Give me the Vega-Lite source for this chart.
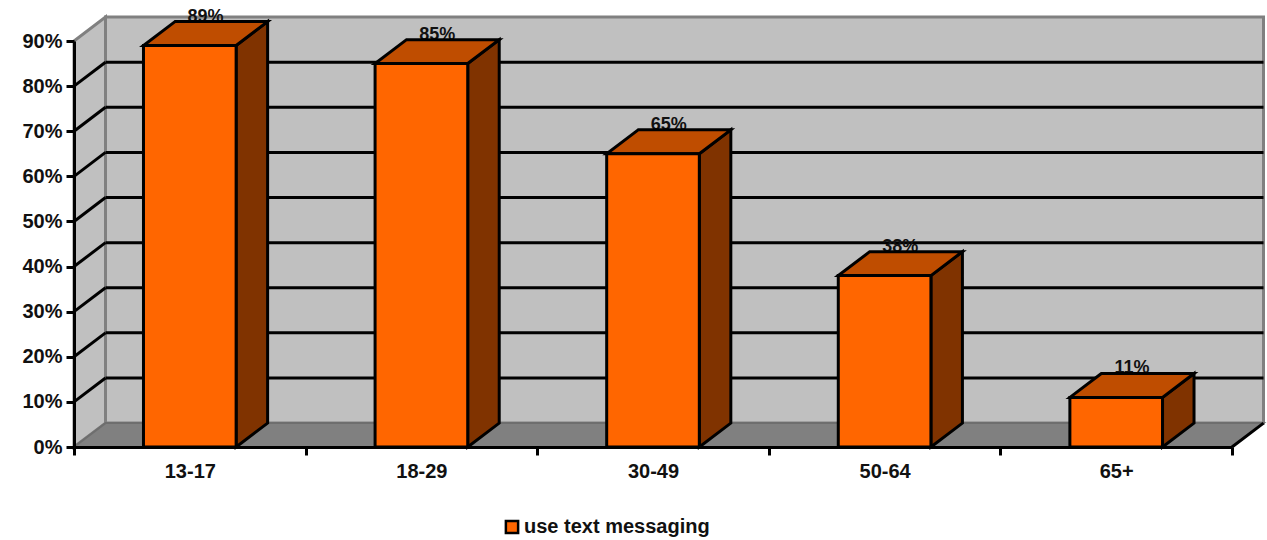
{
  "$schema": "https://vega.github.io/schema/vega-lite/v6.json",
  "width": 1158,
  "height": 406,
  "autosize": "none",
  "padding": {"left": 74, "top": 41, "right": 35, "bottom": 93},
  "background": "white",
  "params": [
    {"name": "depthX", "value": 0.136},
    {"name": "depthY", "value": 0.053}
  ],
  "datasets": {
    "groups": [
      {"age": "13-17", "slot": 0, "share": 0.89, "series": "use text messaging"},
      {"age": "18-29", "slot": 1, "share": 0.85, "series": "use text messaging"},
      {"age": "30-49", "slot": 2, "share": 0.65, "series": "use text messaging"},
      {"age": "50-64", "slot": 3, "share": 0.38, "series": "use text messaging"},
      {"age": "65+", "slot": 4, "share": 0.11, "series": "use text messaging"}
    ],
    "levels": [
      {"level": 0.1}, {"level": 0.2}, {"level": 0.3}, {"level": 0.4},
      {"level": 0.5}, {"level": 0.6}, {"level": 0.7}, {"level": 0.8}
    ],
    "edges": [{"edge": 0}, {"edge": 1}]
  },
  "layer": [
    {
      "description": "Back wall",
      "data": {"name": "edges"},
      "transform": [{"filter": "datum.edge === 0"}],
      "mark": {"type": "rect", "fill": "#c0c0c0", "stroke": "#808080", "strokeWidth": 3, "clip": false},
      "encoding": {
        "x": {"datum": {"expr": "depthX"}, "type": "quantitative", "scale": {"domain": [0, 5], "nice": false, "zero": false}, "axis": null},
        "x2": {"datum": {"expr": "5 + depthX"}},
        "y": {"datum": {"expr": "depthY"}, "type": "quantitative", "scale": {"domain": [0, 0.9], "nice": false}, "axis": null},
        "y2": {"datum": {"expr": "0.9 + depthY"}}
      }
    },
    {
      "description": "Left wall",
      "data": {"name": "edges"},
      "transform": [
        {"calculate": "datum.edge * depthX", "as": "wx"},
        {"calculate": "datum.edge * depthY", "as": "wlow"},
        {"calculate": "0.9 + datum.edge * depthY", "as": "whigh"}
      ],
      "mark": {"type": "area", "fill": "#c0c0c0", "stroke": "#808080", "strokeWidth": 3, "opacity": 1, "clip": false},
      "encoding": {
        "x": {"field": "wx", "type": "quantitative", "scale": {"domain": [0, 5], "nice": false, "zero": false}, "axis": null},
        "y": {"field": "wlow", "type": "quantitative", "scale": {"domain": [0, 0.9], "nice": false}, "axis": null},
        "y2": {"field": "whigh"}
      }
    },
    {
      "description": "Floor",
      "data": {"name": "edges"},
      "transform": [
        {"calculate": "datum.edge * depthX", "as": "fstart"},
        {"calculate": "5 + datum.edge * depthX", "as": "fend"},
        {"calculate": "datum.edge * depthY", "as": "fy"}
      ],
      "mark": {"type": "area", "orient": "horizontal", "fill": "#808080", "stroke": "#6e6e6e", "strokeWidth": 2, "opacity": 1, "clip": false},
      "encoding": {
        "x": {"field": "fstart", "type": "quantitative", "scale": {"domain": [0, 5], "nice": false, "zero": false}, "axis": null},
        "x2": {"field": "fend"},
        "y": {"field": "fy", "type": "quantitative", "scale": {"domain": [0, 0.9], "nice": false}, "axis": null}
      }
    },
    {
      "description": "Right edge of the floor",
      "data": {"name": "edges"},
      "transform": [
        {"filter": "datum.edge === 0"}
      ],
      "mark": {"type": "rule", "color": "black", "strokeWidth": 3, "clip": false},
      "encoding": {
        "x": {"datum": 5, "type": "quantitative", "scale": {"domain": [0, 5], "nice": false, "zero": false}, "axis": null},
        "x2": {"datum": {"expr": "5 + depthX"}},
        "y": {"datum": 0, "type": "quantitative", "scale": {"domain": [0, 0.9], "nice": false}, "axis": null},
        "y2": {"datum": {"expr": "depthY"}}
      }
    },
    {
      "description": "Gridlines along the back wall",
      "data": {"name": "levels"},
      "transform": [
        {"calculate": "datum.level + depthY", "as": "gy"},
        {"calculate": "depthX", "as": "gstart"},
        {"calculate": "5 + depthX", "as": "gend"}
      ],
      "mark": {"type": "rule", "color": "black", "strokeWidth": 3, "clip": false},
      "encoding": {
        "x": {"field": "gstart", "type": "quantitative", "scale": {"domain": [0, 5], "nice": false, "zero": false}, "axis": null},
        "x2": {"field": "gend"},
        "y": {"field": "gy", "type": "quantitative", "scale": {"domain": [0, 0.9], "nice": false}, "axis": null}
      }
    },
    {
      "description": "Gridlines across the left wall",
      "data": {"name": "levels"},
      "transform": [
        {"calculate": "datum.level + depthY", "as": "gy"},
        {"calculate": "depthX", "as": "gend"},
        {"calculate": "0", "as": "gstart"}
      ],
      "mark": {"type": "rule", "color": "black", "strokeWidth": 3, "clip": false},
      "encoding": {
        "x": {"field": "gstart", "type": "quantitative", "scale": {"domain": [0, 5], "nice": false, "zero": false}, "axis": null},
        "x2": {"field": "gend"},
        "y": {"field": "level", "type": "quantitative", "scale": {"domain": [0, 0.9], "nice": false}, "axis": null},
        "y2": {"field": "gy"}
      }
    },
    {
      "description": "Value labels, partly covered by the bar tops",
      "data": {"name": "groups"},
      "transform": [
        {"calculate": "datum.slot + 0.5 + depthX / 2", "as": "lx"},
        {"calculate": "datum.share + depthY", "as": "ly"}
      ],
      "mark": {"type": "text", "baseline": "alphabetic", "align": "center", "dy": 0, "font": "Liberation Sans", "fontWeight": "bold", "fontSize": 18, "color": "#111111", "clip": false},
      "encoding": {
        "x": {"field": "lx", "type": "quantitative", "scale": {"domain": [0, 5], "nice": false, "zero": false}, "axis": null},
        "y": {"field": "ly", "type": "quantitative", "scale": {"domain": [0, 0.9], "nice": false}, "axis": null},
        "text": {"field": "share", "type": "quantitative", "format": ".0%"}
      }
    },
    {
      "description": "Bar side faces",
      "data": {"name": "groups"},
      "transform": [
        {"calculate": "[0, 1]", "as": "edge"},
        {"flatten": ["edge"]},
        {"calculate": "datum.slot + 0.7 + datum.edge * depthX", "as": "sx"},
        {"calculate": "datum.edge * depthY", "as": "slow"},
        {"calculate": "datum.share + datum.edge * depthY", "as": "shigh"}
      ],
      "mark": {"type": "area", "fill": "#803300", "stroke": "black", "strokeWidth": 3, "opacity": 1, "clip": false},
      "encoding": {
        "x": {"field": "sx", "type": "quantitative", "scale": {"domain": [0, 5], "nice": false, "zero": false}, "axis": null},
        "y": {"field": "slow", "type": "quantitative", "scale": {"domain": [0, 0.9], "nice": false}, "axis": null},
        "y2": {"field": "shigh"},
        "detail": {"field": "age"}
      }
    },
    {
      "description": "Bar top faces",
      "data": {"name": "groups"},
      "transform": [
        {"calculate": "[0, 1]", "as": "edge"},
        {"flatten": ["edge"]},
        {"calculate": "datum.slot + 0.3 + datum.edge * depthX", "as": "tstart"},
        {"calculate": "datum.slot + 0.7 + datum.edge * depthX", "as": "tend"},
        {"calculate": "datum.share + datum.edge * depthY", "as": "ty"}
      ],
      "mark": {"type": "area", "orient": "horizontal", "fill": "#bf4d00", "stroke": "black", "strokeWidth": 3, "opacity": 1, "clip": false},
      "encoding": {
        "x": {"field": "tstart", "type": "quantitative", "scale": {"domain": [0, 5], "nice": false, "zero": false}, "axis": null},
        "x2": {"field": "tend"},
        "y": {"field": "ty", "type": "quantitative", "scale": {"domain": [0, 0.9], "nice": false}, "axis": null},
        "detail": {"field": "age"}
      }
    },
    {
      "description": "Bar front faces and the legend",
      "data": {"name": "groups"},
      "transform": [
        {"calculate": "datum.slot + 0.3", "as": "bstart"},
        {"calculate": "datum.slot + 0.7", "as": "bend"},
        {"calculate": "0", "as": "bbase"}
      ],
      "mark": {"type": "rect", "stroke": "black", "strokeWidth": 3, "clip": false},
      "encoding": {
        "x": {"field": "bstart", "type": "quantitative", "scale": {"domain": [0, 5], "nice": false, "zero": false}, "axis": null},
        "x2": {"field": "bend"},
        "y": {"field": "share", "type": "quantitative", "scale": {"domain": [0, 0.9], "nice": false}, "axis": null},
        "y2": {"field": "bbase"},
        "color": {
          "field": "series",
          "type": "nominal",
          "scale": {"domain": ["use text messaging"], "range": ["#ff6600"]},
          "legend": {
            "title": null,
            "orient": "none",
            "legendX": 428,
            "legendY": 476,
            "symbolType": "square",
            "symbolSize": 150,
            "symbolStrokeColor": "black",
            "symbolStrokeWidth": 2.5,
            "symbolOpacity": 1,
            "labelFont": "Liberation Sans",
            "labelFontWeight": "bold",
            "labelFontSize": 20,
            "labelColor": "#111111",
            "labelLimit": 400,
            "labelOffset": 2
          }
        }
      }
    },
    {
      "description": "Category and percentage axes; the marks of this layer stay invisible",
      "data": {"name": "groups"},
      "mark": {"type": "rect", "opacity": 0, "clip": false},
      "encoding": {
        "x": {
          "field": "age",
          "type": "nominal",
          "sort": null,
          "scale": {"type": "band", "padding": 0},
          "axis": {
            "title": null,
            "labelAngle": 0,
            "tickBand": "extent",
            "domainColor": "black",
            "domainWidth": 3,
            "tickColor": "black",
            "tickWidth": 3,
            "tickSize": 8,
            "labelFont": "Liberation Sans",
            "labelFontWeight": "bold",
            "labelFontSize": 20,
            "labelColor": "#111111",
            "labelPadding": 6,
            "labelBaseline": "top",
            "zindex": 1
          }
        },
        "y": {
          "field": "share",
          "type": "quantitative",
          "scale": {"domain": [0, 0.9], "nice": false},
          "axis": {
            "title": null,
            "values": [0, 0.1, 0.2, 0.3, 0.4, 0.5, 0.6, 0.7, 0.8, 0.9],
            "format": ".0%",
            "grid": false,
            "domainColor": "black",
            "domainWidth": 3,
            "tickColor": "black",
            "tickWidth": 3,
            "tickSize": 8,
            "labelFont": "Liberation Sans",
            "labelFontWeight": "bold",
            "labelFontSize": 20,
            "labelColor": "#111111",
            "labelPadding": 4,
            "zindex": 1
          }
        }
      }
    }
  ],
  "resolve": {"scale": {"x": "independent"}, "axis": {"y": "independent"}},
  "config": {"view": {"stroke": null}}
}
